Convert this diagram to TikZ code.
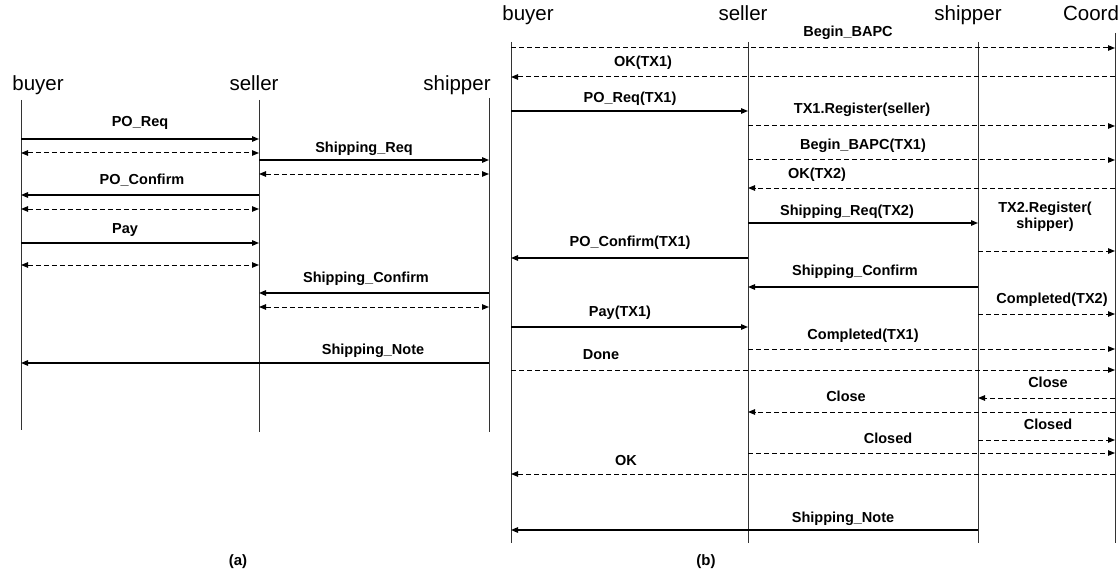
\documentclass[tikz,border=0pt]{standalone}
\usepackage{fontspec}
\setmainfont{Liberation Sans}
\usetikzlibrary{arrows.meta}

\begin{document}
\begin{tikzpicture}[x=1pt,y=-1pt,
  life/.style={line width=1pt,black!80},
  call/.style={line width=1.2pt,-{Triangle[length=7pt,width=5.5pt]}},
  reply/.style={line width=1pt,dash pattern=on 5pt off 3pt,-{Triangle[length=7pt,width=5.5pt]}},
  both/.style={reply,{Triangle[length=7pt,width=5.5pt]}-{Triangle[length=7pt,width=5.5pt]}},
  actor/.style={inner sep=0pt,text height=15pt,text depth=4.5pt,font=\fontsize{20.5}{22}\selectfont},
  msg/.style={inner sep=0pt,text height=10.5pt,text depth=3pt,font=\fontsize{14.5}{16}\selectfont\bfseries},
  caption/.style={inner sep=0pt,font=\fontsize{15}{17}\selectfont\bfseries}]

\useasboundingbox (0,0) rectangle (1119,575);

% (a) without coordinator
\node[actor] (buyerA) at (38,85) {buyer};
\node[actor] (sellerA) at (254,85) {seller};
\node[actor] (shipperA) at (457,85) {shipper};

\coordinate (bA) at (21,100);
\coordinate (sA) at (259,100);
\coordinate (pA) at (489,98);
\coordinate (bAend) at (21,430);
\coordinate (sAend) at (259,432);
\coordinate (pAend) at (489,432);

\draw[life] (bA) -- (bAend);
\draw[life] (sA) -- (sAend);
\draw[life] (pA) -- (pAend);

\draw[call] (bA |- 0,139) -- (sA |- 0,139);
\node[msg] (poreqA) at (140,123) {PO\_Req};
\draw[both] (bA |- 0,153) -- (sA |- 0,153);

\draw[call] (sA |- 0,160) -- (pA |- 0,160);
\node[msg] (shipreqA) at (364,149) {Shipping\_Req};
\draw[both] (sA |- 0,174) -- (pA |- 0,174);

\draw[call] (sA |- 0,195) -- (bA |- 0,195);
\node[msg] (poconfA) at (142,181) {PO\_Confirm};
\draw[both] (bA |- 0,209) -- (sA |- 0,209);

\draw[call] (bA |- 0,243) -- (sA |- 0,243);
\node[msg] (payA) at (125,230) {Pay};
\draw[both] (bA |- 0,265) -- (sA |- 0,265);

\draw[call] (pA |- 0,293) -- (sA |- 0,293);
\node[msg] (shipconfA) at (366,279) {Shipping\_Confirm};
\draw[both] (sA |- 0,307) -- (pA |- 0,307);

\draw[call] (pA |- 0,363) -- (bA |- 0,363);
\node[msg] (shipnoteA) at (373,351) {Shipping\_Note};

\node[caption] (capA) at (238,562) {(a)};

% (b) with coordinator
\node[actor] (buyerB) at (528,15) {buyer};
\node[actor] (sellerB) at (743,15) {seller};
\node[actor] (shipperB) at (968,15) {shipper};
\node[actor] (coordB) at (1091,15) {Coord};

\coordinate (bB) at (511,42);
\coordinate (sB) at (748,42);
\coordinate (pB) at (978,42);
\coordinate (cB) at (1115,33);
\coordinate (bBend) at (511,543);
\coordinate (sBend) at (748,543);
\coordinate (pBend) at (978,543);
\coordinate (cBend) at (1115,543);

\draw[life] (bB) -- (bBend);
\draw[life] (sB) -- (sBend);
\draw[life] (pB) -- (pBend);
\draw[life] (cB) -- (cBend);

\draw[reply] (bB |- 0,48) -- (cB |- 0,48);
\node[msg] (beginB) at (848,33) {Begin\_BAPC};
\draw[reply] (cB |- 0,77) -- (bB |- 0,77);
\node[msg] (ok1B) at (643,63) {OK(TX1)};
\draw[call] (bB |- 0,111) -- (sB |- 0,111);
\node[msg] (poreqB) at (630,99) {PO\_Req(TX1)};
\draw[reply] (sB |- 0,126) -- (cB |- 0,126);
\node[msg] (reg1B) at (862,110) {TX1.Register(seller)};
\draw[reply] (sB |- 0,160) -- (cB |- 0,160);
\node[msg] (begin1B) at (863,146) {Begin\_BAPC(TX1)};
\draw[reply] (cB |- 0,188) -- (sB |- 0,188);
\node[msg] (ok2B) at (817,175) {OK(TX2)};

\draw[call] (sB |- 0,223) -- (pB |- 0,223);
\node[msg] (shipreqB) at (847,212) {Shipping\_Req(TX2)};
\draw[reply] (pB |- 0,251) -- (cB |- 0,251);
\node[msg,align=center] (reg2B) at (1045,225) {TX2.Register(\\shipper)};
\draw[call] (sB |- 0,258) -- (bB |- 0,258);
\node[msg] (poconfB) at (630,243) {PO\_Confirm(TX1)};
\draw[call] (pB |- 0,287) -- (sB |- 0,287);
\node[msg] (shipconfB) at (855,272) {Shipping\_Confirm};
\draw[reply] (pB |- 0,314) -- (cB |- 0,314);
\node[msg] (comp2B) at (1052,300) {Completed(TX2)};
\draw[call] (bB |- 0,327) -- (sB |- 0,327);
\node[msg] (payB) at (620,313) {Pay(TX1)};
\draw[reply] (sB |- 0,349) -- (cB |- 0,349);
\node[msg] (comp1B) at (863,336) {Completed(TX1)};
\draw[reply] (bB |- 0,370) -- (cB |- 0,370);
\node[msg] (doneB) at (601,356) {Done};

\draw[reply] (cB |- 0,398) -- (pB |- 0,398);
\node[msg] (close2B) at (1048,384) {Close};
\draw[reply] (cB |- 0,412) -- (sB |- 0,412);
\node[msg] (close1B) at (846,398) {Close};
\draw[reply] (pB |- 0,440) -- (cB |- 0,440);
\node[msg] (closed2B) at (1048,426) {Closed};
\draw[reply] (sB |- 0,453) -- (cB |- 0,453);
\node[msg] (closed1B) at (888,440) {Closed};
\draw[reply] (cB |- 0,474) -- (bB |- 0,474);
\node[msg] (okB) at (626,462) {OK};

\draw[call] (pB |- 0,530) -- (bB |- 0,530);
\node[msg] (shipnoteB) at (843,519) {Shipping\_Note};

\node[caption] (capB) at (706,562) {(b)};

\end{tikzpicture}
\end{document}
